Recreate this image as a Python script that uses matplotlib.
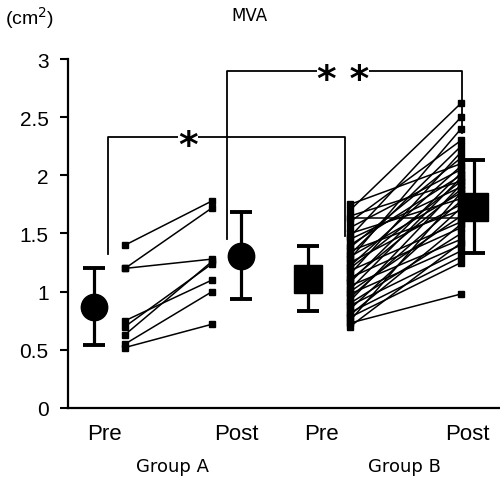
import numpy as np
import matplotlib.pyplot as plt

# individual patients, MVA (cm2) before / after
a_pre = [1.40, 1.20, 1.20, 0.75, 0.70, 0.63, 0.55, 0.52]
a_post = [1.78, 1.72, 1.28, 1.10, 1.24, 1.26, 1.00, 0.72]

b_pre = [1.75, 1.70, 1.65, 1.63, 1.60, 1.55, 1.50, 1.47, 1.45, 1.40, 1.38, 1.35, 1.32,
         1.30, 1.28, 1.25, 1.22, 1.20, 1.18, 1.15, 1.12, 1.10, 1.08, 1.05, 1.02, 1.00,
         0.98, 0.95, 0.92, 0.90, 0.88, 0.85, 0.82, 0.80, 0.78, 0.75, 0.73, 0.70]
b_post = [2.10, 2.62, 1.95, 1.63, 2.30, 2.05, 1.80, 2.50, 1.90, 2.00, 2.15, 1.70, 2.25,
          1.85, 2.40, 1.75, 2.08, 1.95, 1.60, 2.20, 1.55, 1.88, 2.02, 1.45, 1.98, 1.65,
          1.40, 1.78, 1.92, 1.50, 1.35, 1.72, 1.30, 1.58, 1.25, 1.85, 0.98, 1.42]

# group mean +/- SD
a_mean = [0.87, 1.31]
a_sd = [0.33, 0.375]
b_mean = [1.11, 1.73]
b_sd = [0.28, 0.40]

tick_labels = ['Pre', 'Post', 'Pre', 'Post']
group_labels = ['Group A', 'Group B']

plt.rcParams['font.family'] = ['Liberation Sans', 'DejaVu Sans']

fig = plt.figure(figsize=(5.0, 4.89), dpi=100)
ax = fig.add_axes([0.136, 0.1636, 0.864, 0.7137])

# x layout (arbitrary units)
xa_mean = [26, 173]
xa_ind = [57, 144]
xb_mean = [240, 406]
xb_ind = [282, 393]

for p, q in zip(a_pre, a_post):
    ax.plot(xa_ind, [p, q], color='k', lw=1.1, marker='s', ms=4, zorder=2)
for p, q in zip(b_pre, b_post):
    ax.plot(xb_ind, [p, q], color='k', lw=1.1, marker='s', ms=4, zorder=2)

ax.errorbar(xa_mean, a_mean, yerr=a_sd, fmt='o', color='k', ms=19, elinewidth=2.3,
            capsize=8, capthick=2.8, zorder=3)
ax.errorbar(xb_mean, b_mean, yerr=b_sd, fmt='s', color='k', ms=20, elinewidth=2.3,
            capsize=8, capthick=2.8, zorder=3)

# significance brackets
ax.plot([40, 40, 277, 277], [1.32, 2.33, 2.33, 1.48], color='k', lw=1.3, zorder=1)
ax.plot([159, 159, 394, 394], [1.45, 2.90, 2.90, 2.36], color='k', lw=1.3, zorder=1)
ax.text(120, 2.25, '*', fontsize=27, fontweight='bold', ha='center', va='center',
        family=['DejaVu Sans'],
        bbox=dict(facecolor='white', edgecolor='none', pad=0), zorder=4)
ax.text(275, 2.82, '* *', fontsize=27, fontweight='bold', ha='center', va='center',
        family=['DejaVu Sans'],
        bbox=dict(facecolor='white', edgecolor='none', pad=0), zorder=4)

ax.set_xlim(0, 432)
ax.set_ylim(0, 3)
ax.set_yticks(np.arange(0, 3.01, 0.5))
ax.set_yticklabels(['0', '0.5', '1', '1.5', '2', '2.5', '3'])
ax.set_xticks([36, 168, 253, 399])
ax.set_xticklabels(tick_labels)
ax.tick_params(axis='x', length=0, pad=11, labelsize=16)
ax.tick_params(axis='y', direction='out', length=6, width=1.5, pad=8, labelsize=15)

for s in ['top', 'right']:
    ax.spines[s].set_visible(False)
ax.spines['left'].set_linewidth(1.6)
ax.spines['bottom'].set_linewidth(1.6)
ax.spines['bottom'].set_bounds(0, 432)

fig.text(30 / 500, 1 - 18 / 489, '(cm$^2$)', fontsize=14, ha='center', va='center')
fig.text(249 / 500, 1 - 16 / 489, 'MVA', fontsize=12, ha='center', va='center',
         family=['DejaVu Sans'])
fig.text(172 / 500, 1 - 467 / 489, group_labels[0], fontsize=13, ha='center', va='center',
         family=['DejaVu Sans'])
fig.text(404 / 500, 1 - 467 / 489, group_labels[1], fontsize=13, ha='center', va='center',
         family=['DejaVu Sans'])

fig.savefig('out.png', dpi=100)
